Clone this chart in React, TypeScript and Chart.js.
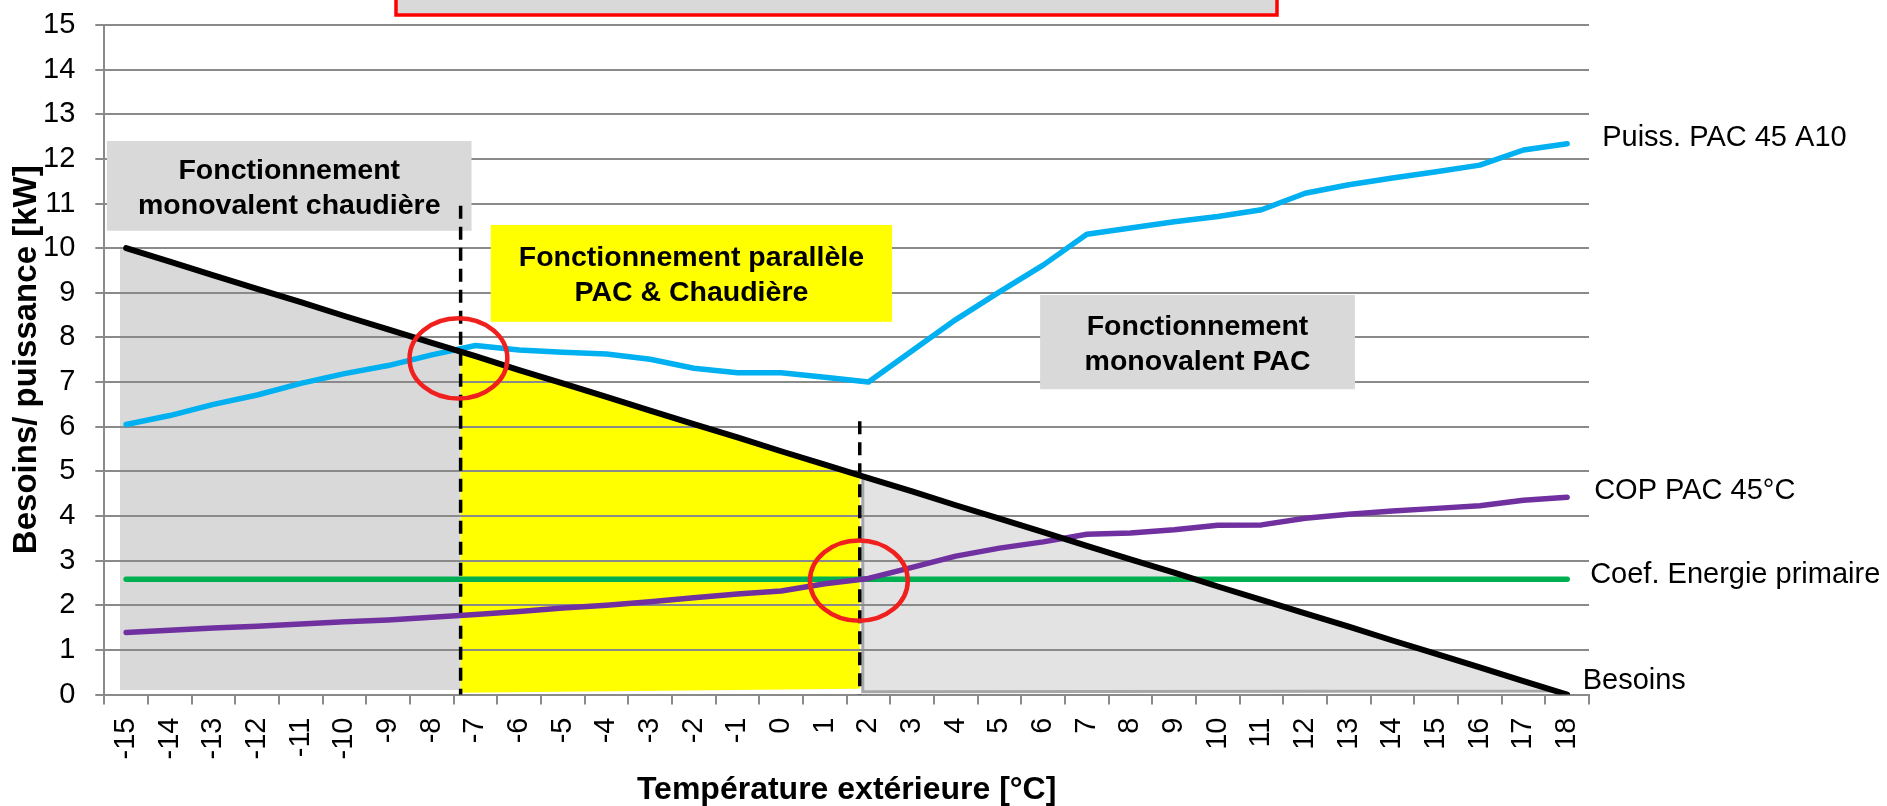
import { useEffect, useRef } from 'react';
import { Chart, registerables } from 'chart.js';

Chart.register(...registerables);

const FONT = '"Liberation Sans", Arial, Helvetica, sans-serif';

// ---------- DATA ----------
const temperatures = [-15, -14, -13, -12, -11, -10, -9, -8, -7, -6, -5, -4, -3, -2, -1, 0, 1, 2, 3, 4, 5, 6, 7, 8, 9, 10, 11, 12, 13, 14, 15, 16, 17, 18];

const besoins = [10, 9.70, 9.39, 9.09, 8.79, 8.48, 8.18, 7.88, 7.58, 7.27, 6.97, 6.67, 6.36, 6.06, 5.76, 5.45, 5.15, 4.85, 4.55, 4.24, 3.94, 3.64, 3.33, 3.03, 2.73, 2.42, 2.12, 1.82, 1.52, 1.21, 0.91, 0.61, 0.30, 0];

const puissancePac = [6.05, 6.25, 6.5, 6.71, 6.97, 7.19, 7.37, 7.61, 7.82, 7.72, 7.67, 7.63, 7.51, 7.31, 7.21, 7.21, 7.11, 7.0, 7.7, 8.4, 9.02, 9.62, 10.31, 10.45, 10.59, 10.71, 10.86, 11.23, 11.42, 11.57, 11.71, 11.86, 12.2, 12.34];

const copPac = [1.39, 1.44, 1.49, 1.53, 1.58, 1.63, 1.67, 1.73, 1.79, 1.86, 1.94, 2.0, 2.08, 2.17, 2.25, 2.32, 2.48, 2.6, 2.85, 3.1, 3.28, 3.42, 3.59, 3.62, 3.69, 3.79, 3.8, 3.95, 4.04, 4.11, 4.17, 4.23, 4.35, 4.42];

const coefEnergiePrimaire = [2.58, 2.58, 2.58, 2.58, 2.58, 2.58, 2.58, 2.58, 2.58, 2.58, 2.58, 2.58, 2.58, 2.58, 2.58, 2.58, 2.58, 2.58, 2.58, 2.58, 2.58, 2.58, 2.58, 2.58, 2.58, 2.58, 2.58, 2.58, 2.58, 2.58, 2.58, 2.58, 2.58, 2.58];

const seriesNames = ['Besoins', 'Puiss. PAC 45 A10', 'COP PAC 45°C', 'Coef. Energie primaire'];

const yTicks = [0, 1, 2, 3, 4, 5, 6, 7, 8, 9, 10, 11, 12, 13, 14, 15];

// Operating zones, as [temperature, value] vertices
const zoneChaudiere = [[-15.14, 10.04], [-7.34, 7.68], [-7.34, 0.1], [-15.14, 0.1]];
const zoneParallele = [[-7.34, 7.68], [1.8, 4.91], [1.8, 0.13], [-7.34, 0.04]];
const zonePac = [[1.87, 4.89], [17.75, 0.08], [1.87, 0.06]];

// Bivalence markers: [temperature, top value]
const bivalenceLines = [[-7.34, 10.95], [1.8, 6.12]];
// Red circles: [temperature, value]
const bivalenceCircles = [[-7.39, 7.53], [1.78, 2.55]];

// Zone label boxes: text lines + [tMin, tMax, vMin, vMax]
const zoneBoxTexts = [
  ['Fonctionnement', 'monovalent chaudière'],
  ['Fonctionnement parallèle', 'PAC & Chaudière'],
  ['Fonctionnement', 'monovalent PAC'],
];
const zoneBoxExtents = [
  [-15.44, -7.09, 10.39, 12.4],
  [-6.65, 2.54, 8.35, 10.52],
  [5.93, 13.14, 6.84, 8.95],
];

const xTitle = 'Température extérieure [°C]';
const yTitle = 'Besoins/ puissance [kW]';

// ---------- STYLES ----------
const seriesColors = ['#000000', '#00B0F0', '#7030A0', '#00B050'];
const seriesWidths = [6, 5.5, 5.5, 5.5];
const endLabelOffsets = [[15.5, -6], [35, 2], [27, 2], [23, 4]];
const boxFills = ['#D9D9D9', '#FFFF00', '#D9D9D9'];
const GRID = '#8A8A8A';

const annotationPlugin = {
  id: 'pacAnnotations',
  beforeDraw(chart: any) {
    const { ctx, scales } = chart;
    const X = (t: number) => scales.x.getPixelForValue(t - temperatures[0]);
    const Y = (v: number) => scales.y.getPixelForValue(v);
    const poly = (pts: number[][], fill: string, stroke?: string, lw?: number) => {
      ctx.save();
      ctx.beginPath();
      pts.forEach(([t, v], i) => (i === 0 ? ctx.moveTo(X(t), Y(v)) : ctx.lineTo(X(t), Y(v))));
      ctx.closePath();
      ctx.fillStyle = fill;
      ctx.fill();
      if (stroke) {
        ctx.strokeStyle = stroke;
        ctx.lineWidth = lw || 1;
        ctx.lineJoin = 'miter';
        ctx.stroke();
      }
      ctx.restore();
    };
    poly(zoneChaudiere, '#D9D9D9');
    poly(zoneParallele, '#FFFF00');
    poly(zonePac, '#E3E3E3', '#A6A6A6', 3);
  },
  beforeDatasetsDraw(chart: any) {
    const { ctx, scales } = chart;
    const X = (t: number) => scales.x.getPixelForValue(t - temperatures[0]);
    const Y = (v: number) => scales.y.getPixelForValue(v);
    ctx.save();
    zoneBoxExtents.forEach(([t0, t1, v0, v1], i) => {
      const x0 = X(t0), x1 = X(t1), y0 = Y(v1), y1 = Y(v0);
      ctx.fillStyle = boxFills[i];
      ctx.fillRect(x0, y0, x1 - x0, y1 - y0);
      const lines = zoneBoxTexts[i];
      const cx = (x0 + x1) / 2;
      const cy = (y0 + y1) / 2;
      const fs = 28.5;
      const lh = 35;
      ctx.font = `bold ${fs}px ${FONT}`;
      ctx.fillStyle = '#000';
      ctx.textAlign = 'center';
      ctx.textBaseline = 'alphabetic';
      lines.forEach((ln, k) => {
        const by = cy + (k - (lines.length - 1) / 2) * lh + 0.36 * fs;
        ctx.fillText(ln, cx, by);
      });
    });
    ctx.strokeStyle = '#000';
    ctx.lineWidth = 3.5;
    ctx.setLineDash([13, 8]);
    bivalenceLines.forEach(([t, top]) => {
      ctx.beginPath();
      ctx.moveTo(X(t), Y(top));
      ctx.lineTo(X(t), Y(0));
      ctx.stroke();
    });
    ctx.restore();
  },
  afterDatasetsDraw(chart: any) {
    const { ctx, scales } = chart;
    const X = (t: number) => scales.x.getPixelForValue(t - temperatures[0]);
    const Y = (v: number) => scales.y.getPixelForValue(v);
    ctx.save();
    ctx.strokeStyle = '#F0201E';
    ctx.lineWidth = 4.5;
    bivalenceCircles.forEach(([t, v]) => {
      const cx = X(t), cy = Y(v);
      const rx = Math.abs(X(t + 1.12) - cx);
      const ry = Math.abs(Y(v + 0.9) - cy);
      ctx.beginPath();
      ctx.ellipse(cx, cy, rx, ry, 0, 0, Math.PI * 2);
      ctx.stroke();
    });
    ctx.font = `29px ${FONT}`;
    ctx.fillStyle = '#000';
    ctx.textAlign = 'left';
    ctx.textBaseline = 'alphabetic';
    chart.data.datasets.forEach((ds: any, i: number) => {
      const meta = chart.getDatasetMeta(i);
      const last = meta.data[meta.data.length - 1];
      const [dx, dy] = endLabelOffsets[i];
      ctx.fillText(ds.label, last.x + dx, last.y + dy);
    });
    ctx.restore();
  },
  afterDraw(chart: any) {
    const { ctx } = chart;
    ctx.save();
    // Title box (its text lies above the visible area)
    ctx.fillStyle = '#D9D9D9';
    ctx.fillRect(396, -20, 881, 35);
    ctx.strokeStyle = '#FF0000';
    ctx.lineWidth = 3.5;
    ctx.strokeRect(396, -20, 881, 35);
    ctx.restore();
  },
};

export default function App() {
  const ref = useRef<HTMLCanvasElement>(null);

  useEffect(() => {
    if (!ref.current) return;
    Chart.defaults.font.family = FONT;
    Chart.defaults.color = '#000';
    const chart = new Chart(ref.current, {
      type: 'line',
      data: {
        labels: temperatures.map(String),
        datasets: [besoins, puissancePac, copPac, coefEnergiePrimaire].map((d, i) => ({
          label: seriesNames[i],
          data: d,
          borderColor: seriesColors[i],
          backgroundColor: seriesColors[i],
          borderWidth: seriesWidths[i],
          pointRadius: 0,
          pointHoverRadius: 0,
          tension: 0,
          fill: false,
          borderCapStyle: 'round',
          borderJoinStyle: 'round',
        })),
      },
      options: {
        responsive: false,
        devicePixelRatio: 1,
        animation: false,
        events: [],
        layout: { padding: { top: 25, right: 298, left: 0, bottom: 0 } },
        plugins: {
          legend: { display: false },
          tooltip: { enabled: false },
          title: { display: false },
        },
        scales: {
          x: {
            type: 'category',
            offset: true,
            grid: {
              offset: true,
              drawOnChartArea: false,
              drawTicks: true,
              tickLength: 10,
              color: GRID,
              lineWidth: 2,
            },
            border: { display: true, color: GRID, width: 2 },
            ticks: {
              autoSkip: false,
              maxRotation: 90,
              minRotation: 90,
              padding: 13,
              color: '#000',
              font: { size: 29, family: FONT },
            },
            title: {
              display: true,
              text: xTitle,
              color: '#000',
              font: { size: 32, weight: 'bold', family: FONT, lineHeight: 1 },
              padding: { top: 0, bottom: 0 },
            },
            afterFit: (s: any) => {
              s.height = 111.5;
            },
          },
          y: {
            type: 'linear',
            min: yTicks[0],
            max: yTicks[yTicks.length - 1],
            afterBuildTicks: (s: any) => {
              s.ticks = yTicks.map((v) => ({ value: v }));
            },
            grid: {
              color: GRID,
              lineWidth: 2,
              drawTicks: true,
              tickLength: 9,
            },
            border: { display: true, color: GRID, width: 2 },
            ticks: {
              padding: 20,
              color: '#000',
              font: { size: 29, family: FONT },
            },
            title: {
              display: true,
              text: yTitle,
              color: '#000',
              font: { size: 33, weight: 'bold', family: FONT, lineHeight: 1 },
              padding: { top: 10.5, bottom: 0 },
            },
            afterFit: (s: any) => {
              s.width = 104.3;
              s.paddingTop = 0;
              s.paddingBottom = 0;
            },
          },
        },
      },
      plugins: [annotationPlugin],
    } as any);
    return () => chart.destroy();
  }, []);

  return (
    <div style={{ position: 'absolute', left: 0, top: 0, width: 1887, height: 806, background: '#fff' }}>
      <canvas ref={ref} width={1887} height={806} style={{ width: '1887px', height: '806px', display: 'block' }} />
    </div>
  );
}
